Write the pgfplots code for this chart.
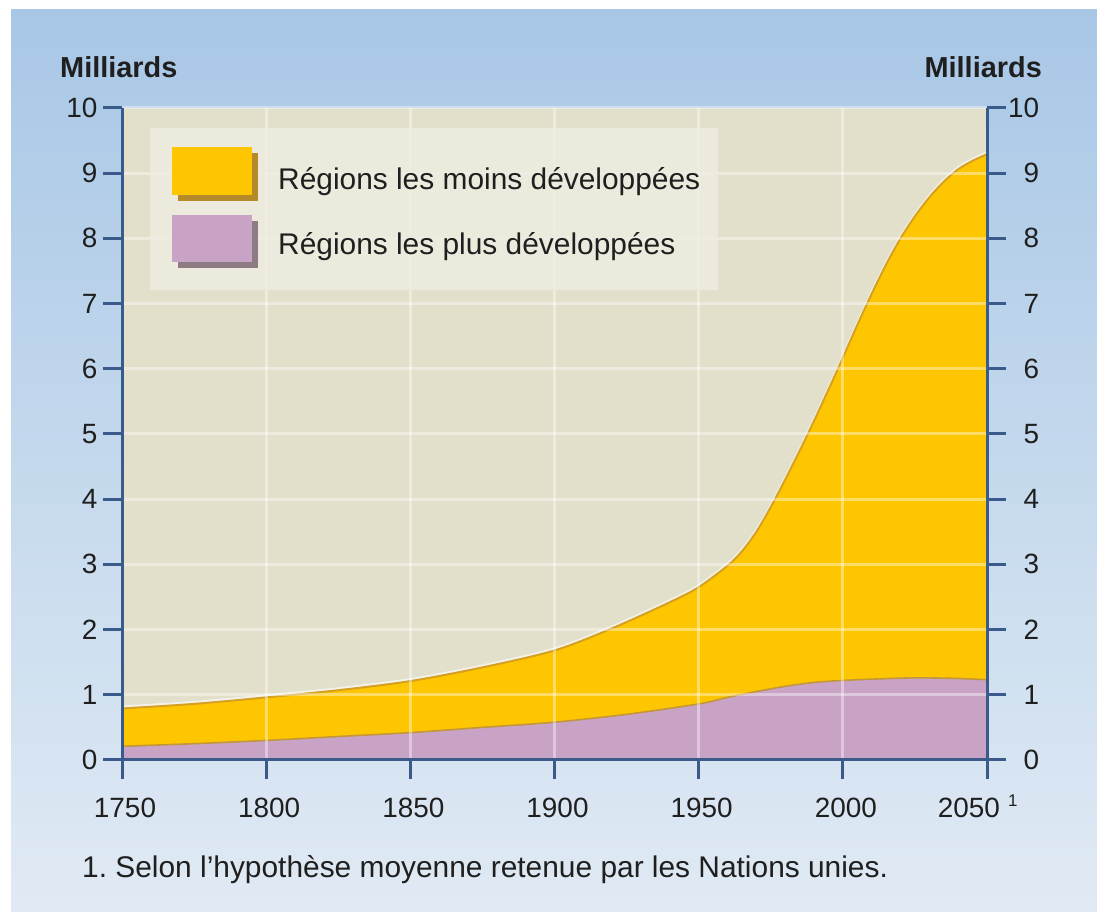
\documentclass[border=0pt]{standalone}
\usepackage{fontspec}
\setmainfont{Liberation Sans}
\usepackage{pgfplots}
\pgfplotsset{compat=1.18}
\usepackage{pgfplotstable}

\definecolor{skytop}{HTML}{A8C7E6}
\definecolor{skybot}{HTML}{E0EAF4}
\definecolor{plotbg}{HTML}{E2DFCB}
\definecolor{legbg}{HTML}{EFEDE1}
\definecolor{axisblue}{HTML}{3A5A8C}
\definecolor{lessdev}{HTML}{FEC600}
\definecolor{lessedge}{HTML}{D6A020}
\definecolor{lessshadow}{HTML}{B48A2A}
\definecolor{moredev}{HTML}{C9A3C6}
\definecolor{moreedge}{HTML}{C4963A}
\definecolor{moreshadow}{HTML}{8E7B84}
\definecolor{ink}{HTML}{1F1F1F}

% Population totale (milliards)
\pgfplotstableread{
year total
1750 0.79
1775 0.86
1800 0.96
1825 1.07
1850 1.21
1875 1.42
1900 1.68
1920 2.02
1940 2.42
1950 2.65
1960 2.98
1965 3.20
1970 3.50
1975 3.88
1980 4.30
1985 4.74
1990 5.20
1995 5.68
2000 6.17
2005 6.67
2010 7.15
2015 7.60
2020 8.00
2025 8.34
2030 8.63
2035 8.87
2040 9.06
2045 9.19
2050 9.29
}\totaldata

% Régions les plus développées (milliards)
\pgfplotstableread{
year more
1750 0.21
1775 0.25
1800 0.30
1825 0.36
1850 0.42
1875 0.50
1900 0.58
1925 0.70
1950 0.86
1960 0.96
1970 1.05
1980 1.13
1990 1.19
2000 1.22
2010 1.24
2025 1.26
2040 1.25
2050 1.23
}\moredata

\begin{document}
\begin{tikzpicture}[x=1bp,y=1bp]
\path[use as bounding box] (0,0) rectangle (1097,912);
\fill[white] (0,0) rectangle (1097,912);
\shade[top color=skytop, bottom color=skybot] (11,0) rectangle (1097,902);

\begin{axis}[
  at={(122bp,152bp)}, anchor=south west, scale only axis,
  width=865bp, height=652bp,
  xmin=1750, xmax=2050, ymin=0, ymax=10,
  axis x line=bottom, axis y line=left,
  axis line style={draw=axisblue, line width=3bp, -},
  axis background/.style={fill=plotbg},
  axis on top,
  tick align=outside,
  major tick length=19bp,
  tick style={draw=axisblue, line width=3bp},
  xtick={1750,1800,...,2050},
  xticklabels={1750,1800,1850,1900,1950,2000,{\hspace*{20bp}\makebox[0pt][r]{2050}\makebox[0pt][l]{\hspace{8bp}\raisebox{11bp}[0pt][0pt]{\fontsize{17}{17}\selectfont 1}}}},
  ytick={0,1,...,10},
  yticklabels={0,1,2,3,4,5,6,7,8,9,10},
  every tick label/.append style={font=\fontsize{28}{28}\selectfont, text=ink},
  xticklabel style={xshift=3bp, yshift=-16bp},
  yticklabel style={xshift=-2bp},
  grid=major,
  grid style={draw=white, opacity=0.4, line width=3bp},
  clip=true,
]
\addplot[fill=lessdev, draw=none, smooth] table[x=year, y=total] {\totaldata} \closedcycle;
\addplot[fill=moredev, draw=none, smooth] table[x=year, y=more] {\moredata} \closedcycle;
\addplot[draw=white, opacity=0.6, line width=2bp, smooth, yshift=2bp] table[x=year, y=total] {\totaldata};
\addplot[draw=lessedge, line width=2bp, smooth] table[x=year, y=total] {\totaldata};
\addplot[draw=moreedge, line width=1.6bp, smooth] table[x=year, y=more] {\moredata};
\end{axis}

% axe de droite
\begin{axis}[
  at={(122bp,152bp)}, anchor=south west, scale only axis,
  width=865bp, height=652bp,
  xmin=1750, xmax=2050, ymin=0, ymax=10,
  hide x axis,
  axis y line=right,
  axis line style={draw=axisblue, line width=3bp, -},
  tick align=outside,
  major tick length=19bp,
  tick style={draw=axisblue, line width=3bp},
  ytick={0,1,...,10},
  yticklabels={0,1,2,3,4,5,6,7,8,9,10},
  yticklabel style={font=\fontsize{28}{28}\selectfont, text=ink, anchor=west, text width=31bp, align=right, inner sep=0pt, xshift=2bp},
]
\end{axis}

% légende
\fill[legbg, opacity=0.8] (150,622) rectangle (718,784);
\fill[lessshadow] (178,711) rectangle (258,759);
\fill[lessdev] (172,717) rectangle (252,765);
\fill[moreshadow] (178,644) rectangle (258,691);
\fill[moredev] (172,650) rectangle (252,697);
\node[anchor=base west, inner sep=0pt, text=ink, font=\fontsize{30}{30}\selectfont] at (278,722) {Régions les moins développées};
\node[anchor=base west, inner sep=0pt, text=ink, font=\fontsize{30}{30}\selectfont] at (278,657) {Régions les plus développées};

% titres des axes
\node[anchor=base west, inner sep=0pt, text=ink, font=\fontsize{29}{29}\selectfont\bfseries] at (60,834) {Milliards};
\node[anchor=base east, inner sep=0pt, text=ink, font=\fontsize{29}{29}\selectfont\bfseries] at (1042,834) {Milliards};

% note
\node[anchor=base west, inner sep=0pt, text=ink, font=\fontsize{30}{30}\selectfont] at (82,34) {1.\ Selon l’hypothèse moyenne retenue par les Nations unies.};
\end{tikzpicture}
\end{document}
